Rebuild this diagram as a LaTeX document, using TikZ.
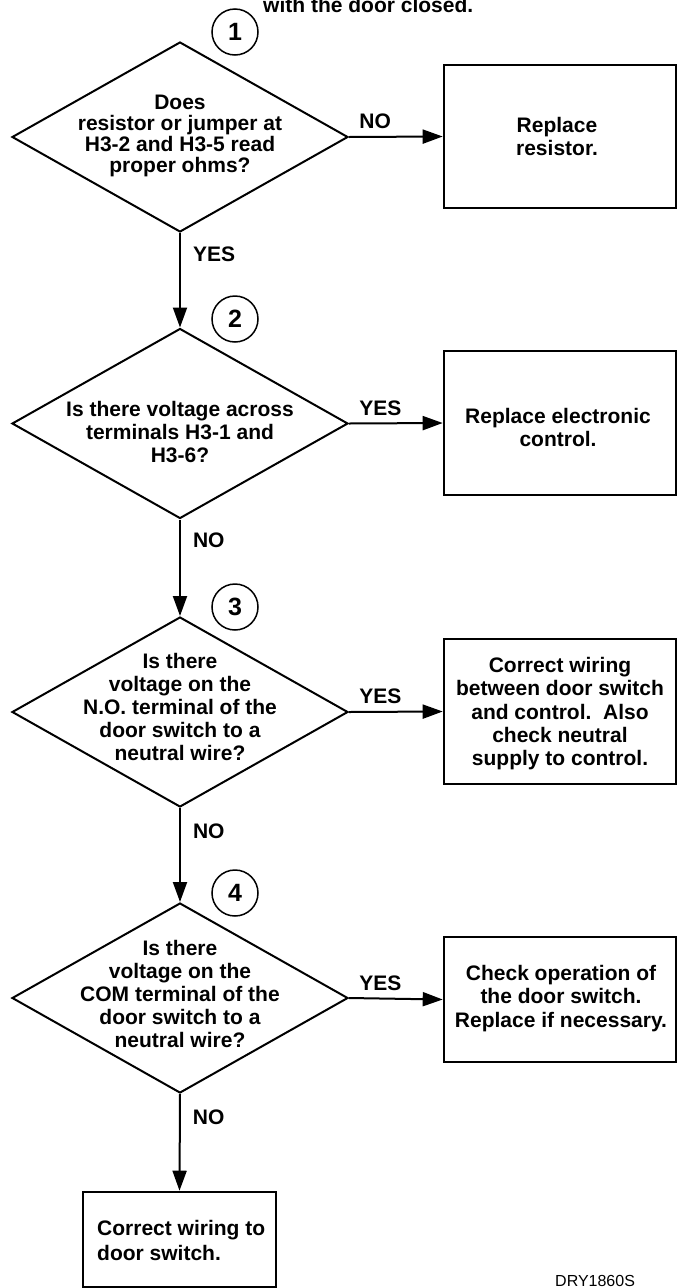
\documentclass[tikz,border=0pt]{standalone}
\usepackage{fontspec}
\setmainfont{Liberation Sans}
\usetikzlibrary{shapes.geometric,arrows.meta}
\begin{document}
\begin{tikzpicture}[x=1pt,y=-1pt,
  dia/.style={diamond, draw, line width=2pt, minimum width=336pt, minimum height=190pt, inner sep=0pt},
  box/.style={rectangle, draw, line width=2.6pt, inner sep=0pt},
  txt/.style={align=center, inner sep=0pt, anchor=north},
  lbl/.style={font=\fontsize{21}{23}\selectfont\bfseries, inner sep=0pt, anchor=base west},
  num/.style={circle, draw, line width=1.5pt, minimum size=46pt, inner sep=0pt, font=\fontsize{25}{25}\selectfont\bfseries},
  arr/.style={line width=2pt, -{Triangle[length=20pt,width=14pt]}},
  vlbl/.style={lbl, xshift=12pt},
  hlbl/.style={lbl, pos=0.1, yshift=8pt}
]
\useasboundingbox (0,0) rectangle (682,1288);

% title (cut at top)
\node[lbl] (title) at (263,12) {with the door closed.};

% step numbers
\node[num] (c1) at (235,32) {1};
\node[num] (c2) at (235,319) {2};
\node[num] (c3) at (235,607) {3};
\node[num] (c4) at (235,893) {4};

% diamonds
\node[dia] (d1) at (180,137) {};
\node[dia] (d2) at (180,423.5) {};
\node[dia] (d3) at (180,712) {};
\node[dia] (d4) at (180,998) {};

\node[txt, font=\fontsize{21}{21}\selectfont\bfseries] (t1) at (180,95)
  {Does\\resistor or jumper at\\H3-2 and H3-5 read\\proper ohms?};
\node[txt, font=\fontsize{21}{23}\selectfont\bfseries] (t2) at (180,401)
  {Is there voltage across\\terminals H3-1 and\\H3-6?};
\node[txt, font=\fontsize{21}{23}\selectfont\bfseries] (t3) at (180,653)
  {Is there\\voltage on the\\N.O. terminal of the\\door switch to a\\neutral wire?};
\node[txt, font=\fontsize{21}{23}\selectfont\bfseries] (t4) at (180,940)
  {Is there\\voltage on the\\COM terminal of the\\door switch to a\\neutral wire?};

% boxes
\node[box, minimum width=232pt, minimum height=143pt] (b1) at (560,136.5) {};
\node[box, minimum width=232pt, minimum height=144pt] (b2) at (560,423) {};
\node[box, minimum width=232pt, minimum height=145pt] (b3) at (560,711.5) {};
\node[box, minimum width=232pt, minimum height=125pt] (b4) at (560,999.5) {};
\node[box, minimum width=193pt, minimum height=95pt] (b5) at (179.5,1239.5) {};

\node[txt, font=\fontsize{21}{23}\selectfont\bfseries] (bt1) at (557,117)
  {Replace\\resistor.};
\node[txt, font=\fontsize{21}{23.5}\selectfont\bfseries] (bt2) at (558,408)
  {Replace electronic\\control.};
\node[txt, font=\fontsize{21}{23.3}\selectfont\bfseries] (bt3) at (560,657)
  {Correct wiring\\between door switch\\and control.\ \ Also\\check neutral\\supply to control.};
\node[txt, font=\fontsize{21}{23.3}\selectfont\bfseries] (bt4) at (561,965)
  {Check operation of\\the door switch.\\Replace if necessary.};
\node[txt, align=left, anchor=north west, font=\fontsize{21}{25}\selectfont\bfseries] (bt5) at (97,1220)
  {Correct wiring to\\door switch.};

% connectors
\draw[arr] (d1.east) -- node[hlbl] (l1) {NO} (b1.west);
\draw[arr] (d2.east) -- node[hlbl] (l2) {YES} (b2.west);
\draw[arr] (d3.east) -- node[hlbl] (l3) {YES} (b3.west);
\draw[arr] (d4.east) -- node[hlbl] (l4) {YES} (b4.west);

\draw[arr] (d1.south) -- node[vlbl, pos=0.305] (v1) {YES} (d2.north);
\draw[arr] (d2.south) -- node[vlbl, pos=0.295] (v2) {NO} (d3.north);
\draw[arr] (d3.south) -- node[vlbl, pos=0.32] (v3) {NO} (d4.north);
\draw[arr] (d4.south) -- node[vlbl, pos=0.32] (v4) {NO} (b5.north);

% figure code
\node[font=\fontsize{16}{16}\selectfont, inner sep=0pt, anchor=base west] (code) at (555,1286) {DRY1860S};
\end{tikzpicture}
\end{document}
